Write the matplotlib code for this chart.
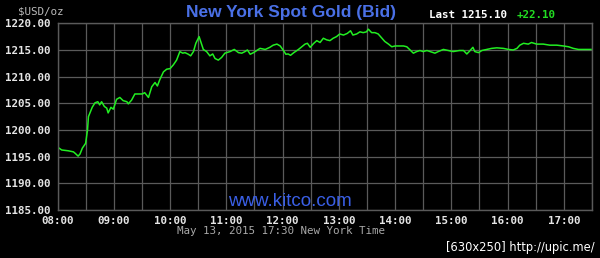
import matplotlib
matplotlib.use("Agg")
import matplotlib.pyplot as plt
import numpy as np

# minutes after 08:00 New York time, spot bid price
minutes = [0, 4.5, 11.5, 17, 19, 22, 24, 26.5, 30, 32, 33, 35, 37, 40, 43, 45, 47, 50,
           52.5, 54, 57, 59.5, 63, 66.5, 70, 74, 75.5, 79, 82.5, 86, 90.5, 93, 97,
           100.5, 104, 106.5, 109, 113, 116.5, 120, 123.5, 127, 130.5, 133.5, 136,
           139.5, 142, 145, 147.5, 151, 154, 155.5, 159, 162.5, 165.5, 168, 171.5,
           175, 178.5, 184, 188.5, 193, 196.5, 200, 202.5, 205.5, 209, 212.5, 216,
           221.5, 226.5, 230, 234, 237.5, 241, 243.5, 246, 248.5, 252, 257, 260.5,
           264, 266.5, 269.5, 273, 276.5, 280, 283.5, 287, 290.5, 294, 297.5, 301,
           305, 309, 312.5, 315, 319, 322.5, 326, 329.5, 331.5, 335, 338.5, 342,
           346, 349, 353, 356.5, 360, 363.5, 369, 372.5, 376, 379.5, 383, 386.5,
           390, 394, 397.5, 402.5, 406, 411.5, 417, 422, 428.5, 433, 436.5, 439,
           443, 445, 449, 452.5, 457.5, 463, 468.5, 475.5, 481, 486, 490, 493, 497,
           502, 505.5, 511, 518, 525, 532.5, 539.5, 545, 550, 555.5, 561, 569]
price = [1196.8, 1196.25, 1196.1, 1195.9, 1195.6, 1195.1, 1195.5, 1196.6, 1197.5,
         1200.0, 1202.5, 1203.4, 1204.25, 1205.1, 1205.3, 1204.7, 1205.3, 1204.4,
         1204.1, 1203.2, 1204.25, 1203.9, 1205.75, 1206.1, 1205.5, 1205.3, 1204.9,
         1205.6, 1206.75, 1206.75, 1206.75, 1207.0, 1206.1, 1208.1, 1208.9, 1208.25,
         1209.4, 1210.9, 1211.4, 1211.5, 1212.2, 1213.1, 1214.7, 1214.4, 1214.5,
         1214.2, 1213.9, 1214.7, 1216.25, 1217.5, 1215.9, 1215.1, 1214.7, 1213.9,
         1214.25, 1213.4, 1213.1, 1213.6, 1214.4, 1214.7, 1215.1, 1214.5, 1214.4,
         1214.7, 1215.0, 1214.2, 1214.5, 1214.9, 1215.3, 1215.1, 1215.5, 1215.9,
         1216.1, 1215.75, 1214.9, 1214.2, 1214.25, 1214.0, 1214.5, 1215.1, 1215.6,
         1216.1, 1216.25, 1215.5, 1216.2, 1216.75, 1216.4, 1217.2, 1216.9, 1216.75,
         1217.2, 1217.5, 1218.0, 1217.8, 1218.1, 1218.6, 1217.8, 1218.0, 1218.4,
         1218.25, 1218.4, 1218.9, 1218.25, 1218.25, 1218.0, 1217.2, 1216.6, 1216.1,
         1215.6, 1215.75, 1215.75, 1215.75, 1215.6, 1215.0, 1214.4, 1214.7, 1214.9,
         1214.7, 1214.9, 1214.7, 1214.4, 1214.7, 1215.1, 1214.9, 1214.7, 1214.9,
         1214.9, 1214.25, 1214.7, 1215.5, 1214.7, 1214.5, 1214.9, 1215.1, 1215.3,
         1215.4, 1215.3, 1215.1, 1215.0, 1215.3, 1215.9, 1216.25, 1216.1, 1216.4,
         1216.1, 1216.1, 1215.9, 1215.9, 1215.75, 1215.6, 1215.3, 1215.1, 1215.1,
         1215.1]

hour_labels = ["08:00", "09:00", "10:00", "11:00", "12:00", "13:00",
               "14:00", "15:00", "16:00", "17:00"]
y_ticks = [1185, 1190, 1195, 1200, 1205, 1210, 1215, 1220]

mono = "DejaVu Sans Mono"
grid_col = "#5a5a5a"

fig = plt.figure(figsize=(6.0, 2.58), dpi=100, facecolor="black")
ax = fig.add_axes([57.5 / 600, 48 / 258, 534.5 / 600, 186.7 / 258])
ax.set_facecolor("black")

ax.plot(minutes, price, color="#22ee22", lw=1.1)

ax.set_xlim(0, 570)
ax.set_ylim(1185, 1220)
# hourly labels, half-hour grid lines
ax.set_xticks(np.arange(0, 600, 60))
ax.set_xticks(np.arange(30, 571, 60), minor=True)
ax.set_xticklabels(hour_labels)
ax.set_yticks(y_ticks)
ax.set_yticklabels(["%.2f" % v for v in y_ticks])

ax.grid(True, which="both", color=grid_col, lw=0.9)
ax.tick_params(which="both", length=0, pad=4)
ax.tick_params(axis="both", labelcolor="#e6e6e6", labelsize=7.8)
for lab in ax.get_xticklabels() + ax.get_yticklabels():
    lab.set_fontfamily(mono)
    lab.set_fontweight("bold")
ax.tick_params(axis="y", pad=5)
for s in ax.spines.values():
    s.set_color(grid_col)
    s.set_linewidth(1.0)

# header texts
fig.text(291 / 600, 1 - 12 / 258, "New York Spot Gold (Bid)", color="#4a70e6",
         fontsize=12.5, fontweight="bold", family="Liberation Sans",
         ha="center", va="center")
fig.text(429 / 600, 1 - 15 / 258, "Last 1215.10", color="white", fontsize=7.8,
         family=mono, fontweight="bold", ha="left", va="center")
fig.text(517 / 600, 1 - 15 / 258, "+22.10", color="#22dd22", fontsize=7.8,
         family=mono, fontweight="bold", ha="left", va="center")
fig.text(18 / 600, 1 - 11 / 258, "$USD/oz", color="#bbbbbb", fontsize=7.8,
         family=mono, ha="left", va="center")

fig.text(290 / 600, 1 - 202 / 258, "www.kitco.com", color="#3a5fe6", fontsize=13.5,
         family="Liberation Sans", ha="center", va="center")
fig.text(281 / 600, 1 - 231 / 258, "May 13, 2015 17:30 New York Time",
         color="#a8a8a8", fontsize=7.8, family=mono, ha="center", va="center")
fig.text(595 / 600, 1 - 247 / 258, "[630x250] http://upic.me/", color="white",
         fontsize=8.3, family="DejaVu Sans", ha="right", va="center")

fig.savefig("out.png", dpi=100, facecolor="black")
